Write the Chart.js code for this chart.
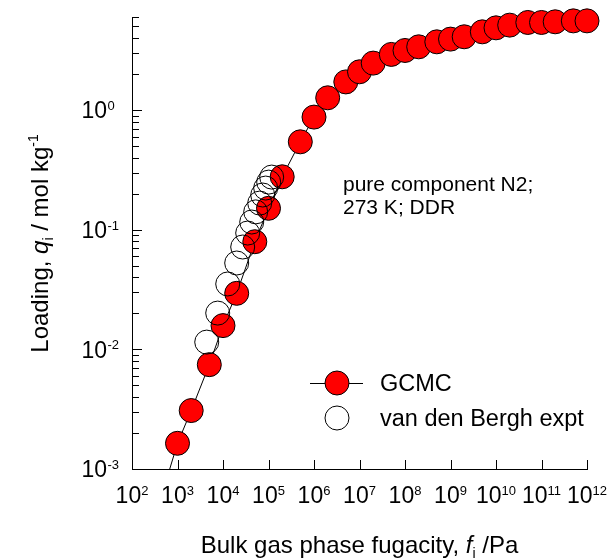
<!DOCTYPE html>
<html>
<head>
<meta charset="utf-8">
<script src="https://cdn.jsdelivr.net/npm/chart.js@4.4.0/dist/chart.umd.min.js"></script>
<style>
  html, body { margin: 0; padding: 0; background: #fff; }
  #wrap { width: 612px; height: 560px; }
</style>
</head>
<body>
<div id="wrap"><canvas id="c" width="612" height="560"></canvas></div>
<script>
// GCMC loadings of pure N2 in DDR at 273 K
const gcmcFugacity = [1e3, 2e3, 5e3, 1e4, 2e4, 5e4, 1e5, 2e5, 5e5, 1e6, 2e6, 5e6, 1e7, 2e7,
                      5e7, 1e8, 2e8, 5e8, 1e9, 2e9, 5e9, 1e10, 2e10, 5e10, 1e11, 2e11, 5e11, 1e12];
const gcmcLoading = [0.00164, 0.00308, 0.00745, 0.0158, 0.0294, 0.0794, 0.151, 0.277, 0.543, 0.874,
                     1.267, 1.72, 2.09, 2.47, 2.92, 3.15, 3.38, 3.72, 3.92, 4.10, 4.51, 4.87, 5.13,
                     5.40, 5.40, 5.47, 5.57, 5.57];

// lower end of the GCMC curve, where it leaves the plot through the bottom axis
const curveTailFugacity = 675;
const curveTailLoading = 0.001;

// van den Bergh experimental isotherm
const exptFugacity = [4390, 7650, 12700, 20000, 27100, 34900, 42800, 52300, 64100, 74600, 86700, 101000, 117500];
const exptLoading = [0.0115, 0.0201, 0.0352, 0.0527, 0.0717, 0.0938, 0.116, 0.141, 0.167, 0.195, 0.223, 0.250, 0.2755];

// decade exponents for the axis labels
const xTickExponents = [2, 3, 4, 5, 6, 7, 8, 9, 10, 11, 12];
const yTickExponents = [-3, -2, -1, 0];
const yMinorFactors = [2, 3, 4, 5, 6, 7, 8, 9];

const seriesNames = ['GCMC', 'van den Bergh expt'];
const noteLines = ['pure component N2;', '273 K; DDR'];

const FONT = '"Liberation Sans", Arial, Helvetica, sans-serif';

const toPoints = (xs, ys) => xs.map((x, i) => ({ x: x, y: ys[i] }));
const gcmcPoints = toPoints(gcmcFugacity, gcmcLoading);
const curvePoints = [{ x: curveTailFugacity, y: curveTailLoading }].concat(gcmcPoints);
const exptPoints = toPoints(exptFugacity, exptLoading);

// draw a run of text pieces with their own fonts and vertical shifts
function drawRich(ctx, parts, x, y, align) {
  let total = 0;
  const widths = parts.map(p => { ctx.font = p.font; const w = ctx.measureText(p.t).width; total += w; return w; });
  let cx = align === 'center' ? x - total / 2 : (align === 'right' ? x - total : x);
  ctx.textAlign = 'left';
  ctx.textBaseline = 'alphabetic';
  parts.forEach((p, i) => {
    ctx.font = p.font;
    ctx.fillText(p.t, cx, y + (p.dy || 0));
    cx += widths[i];
  });
}

const MAIN = '23px ' + FONT;
const SUP = '13px ' + FONT;
const TITLE = '24px ' + FONT;

const axisDecor = {
  id: 'axisDecor',
  afterDraw(chart) {
    const ctx = chart.ctx;
    const xs = chart.scales.x, ys = chart.scales.y;
    const a = chart.chartArea;
    ctx.save();
    ctx.strokeStyle = '#000';
    ctx.lineWidth = 1;
    ctx.beginPath();
    // x decade ticks, pointing into the plot
    xTickExponents.forEach(e => {
      const px = Math.round(xs.getPixelForValue(Math.pow(10, e))) + 0.5;
      ctx.moveTo(px, a.bottom);
      ctx.lineTo(px, a.bottom - 9);
    });
    // y major and minor ticks
    const yMax = ys.max;
    yTickExponents.forEach(e => {
      const base = Math.pow(10, e);
      const py = Math.round(ys.getPixelForValue(base)) + 0.5;
      ctx.moveTo(a.left, py);
      ctx.lineTo(a.left + 10, py);
      yMinorFactors.forEach(k => {
        const v = k * base;
        if (v > yMax * 1.0001) return;
        const pm = Math.round(ys.getPixelForValue(v)) + 0.5;
        ctx.moveTo(a.left, pm);
        ctx.lineTo(a.left + 7, pm);
      });
    });
    ctx.stroke();

    ctx.fillStyle = '#000';
    // x tick labels: 10 with superscript exponent
    xTickExponents.forEach(e => {
      const px = xs.getPixelForValue(Math.pow(10, e));
      drawRich(ctx, [{ t: '10', font: MAIN }, { t: String(e), font: SUP, dy: -8.5 }], px, 503, 'center');
    });
    // y tick labels
    yTickExponents.forEach(e => {
      const py = ys.getPixelForValue(Math.pow(10, e));
      ctx.font = MAIN;
      ctx.textAlign = 'right';
      ctx.textBaseline = 'alphabetic';
      ctx.fillText('10', 107, py + 8.3);
      ctx.font = SUP;
      ctx.textAlign = 'left';
      ctx.fillText(String(e), 107.5, py - 0.2);
    });

    // axis titles
    drawRich(ctx, [
      { t: 'Bulk gas phase fugacity, ', font: TITLE },
      { t: 'f', font: 'italic 24px ' + FONT },
      { t: 'i', font: '14px ' + FONT, dy: 5 },
      { t: ' /Pa', font: TITLE }
    ], (a.left + a.right) / 2, 553, 'center');

    ctx.save();
    ctx.translate(48, 243.5);
    ctx.rotate(-Math.PI / 2);
    drawRich(ctx, [
      { t: 'Loading, ', font: TITLE },
      { t: 'q', font: 'italic 24px ' + FONT },
      { t: 'i', font: '14px ' + FONT, dy: 5 },
      { t: ' / mol kg', font: TITLE },
      { t: '-1', font: '14px ' + FONT, dy: -10 }
    ], 0, 0, 'center');
    ctx.restore();

    // annotation
    ctx.font = '21px ' + FONT;
    ctx.textAlign = 'left';
    ctx.fillText(noteLines[0], 343, 191);
    ctx.fillText(noteLines[1], 343, 214);

    // legend
    const g = chart.data.datasets[0], ex = chart.data.datasets[1];
    ctx.beginPath();
    ctx.moveTo(310, 383.5);
    ctx.lineTo(363, 383.5);
    ctx.stroke();
    ctx.beginPath();
    ctx.arc(337, 383, 12, 0, Math.PI * 2);
    ctx.fillStyle = g.backgroundColor;
    ctx.fill();
    ctx.strokeStyle = g.borderColor;
    ctx.stroke();
    ctx.beginPath();
    ctx.arc(337, 418, 12, 0, Math.PI * 2);
    ctx.strokeStyle = ex.borderColor;
    ctx.stroke();
    ctx.fillStyle = '#000';
    ctx.font = '23.5px ' + FONT;
    ctx.fillText(seriesNames[0], 380, 391.3);
    ctx.fillText(seriesNames[1], 380, 426.3);
    ctx.restore();
  }
};

new Chart(document.getElementById('c'), {
  type: 'scatter',
  data: {
    datasets: [
      {
        label: seriesNames[0],
        data: gcmcPoints,
        pointRadius: 12,
        pointHoverRadius: 12,
        backgroundColor: '#ff0000',
        borderColor: '#000000',
        borderWidth: 1,
        showLine: false,
        clip: false,
        order: 2
      },
      {
        label: seriesNames[1],
        data: exptPoints,
        pointRadius: 12,
        pointHoverRadius: 12,
        backgroundColor: 'rgba(0,0,0,0)',
        borderColor: '#000000',
        borderWidth: 1,
        showLine: false,
        clip: false,
        order: 1
      },
      {
        label: 'GCMC curve',
        data: curvePoints,
        showLine: true,
        pointRadius: 0,
        borderColor: '#000000',
        borderWidth: 1,
        tension: 0,
        fill: false,
        clip: false,
        order: 3
      }
    ]
  },
  options: {
    responsive: false,
    animation: false,
    devicePixelRatio: 1,
    layout: { padding: { left: 132, right: 25, top: 17, bottom: 91 } },
    plugins: { legend: { display: false }, tooltip: { enabled: false } },
    scales: {
      x: {
        type: 'logarithmic',
        min: 100,
        max: 1e12,
        bounds: 'data',
        ticks: { display: false },
        grid: { display: false, drawTicks: false },
        border: { display: true, color: '#000', width: 1 }
      },
      y: {
        type: 'logarithmic',
        min: 0.001,
        max: 6,
        bounds: 'data',
        ticks: { display: false },
        grid: { display: false, drawTicks: false },
        border: { display: true, color: '#000', width: 1 }
      }
    }
  },
  plugins: [axisDecor]
});
</script>
</body>
</html>
